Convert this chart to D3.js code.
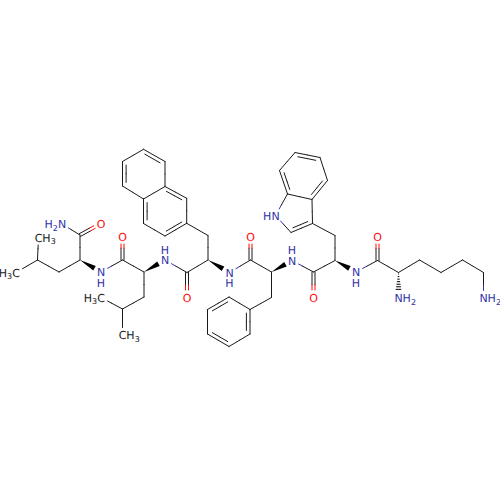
<!DOCTYPE html>
<html>
<head>
<meta charset="utf-8">
<script src="https://cdn.jsdelivr.net/npm/d3@7"></script>
<style>
  html, body { margin: 0; padding: 0; background: #fff; }
  svg { display: block; }
  text { font-family: "DejaVu Sans", sans-serif; font-size: 11px; text-rendering: geometricPrecision; }
</style>
</head>
<body>
<div id="mol"></div>
<script>
// atom positions
var atomIds = [
  "nh2a","camide","oa","ca1","cb1","cg1","cd1a","cd1b","n1",
  "c2","o2","ca2","cb2","cg2","cd2a","cd2b","n2",
  "c3","o3","ca3","cb3","n3",
  "np1","np2","np3","np4","np5","np6","np7","np8","np9","np10",
  "c4","o4","ca4","cb4","n4",
  "ph1","ph2","ph3","ph4","ph5","ph6",
  "c5","o5","ca5","cb5","n5",
  "in3","in2","in1","in7a","in3a","in7","in6","in5","in4",
  "c6","o6","ca6","nh2b","cb6","cg6","cd6","ce6","nh2c"
];
var atomX = [
  62,80,101,80,59,37.5,38.5,16,101,
  122.5,122.5,144,144,122.5,101,122.5,165,
  187,187,208,208,229.5,
  186.7,186.7,165,143.5,143.5,165,165,143.5,122.5,122.5,
  250.5,250.5,271.5,271.5,292,
  250,250,229,207.5,207.5,229,
  313.5,313.5,335,335,356,
  312.5,291,275.5,287.5,312,279.5,295,320,327.5,
  377.5,377.5,398.5,398.5,419.5,441,462.5,483.5,483.5
];
var atomY = [
  224,235,223.5,260,272,260,237.5,272.5,272,
  260,236.5,272,297,309,297.5,335,260,
  272.5,297.5,260,235.5,272.5,
  223.3,198.3,186.5,199,223.5,236,161.5,149.3,161.5,186,
  260,236.5,272,297.5,260.5,
  309.5,334,346.5,334,309.5,297,
  272,297.5,260.5,235.5,272,
  223.5,232.5,215.5,194,199.5,170.5,152.5,157.5,180.5,
  260.5,236.5,272.5,298,260,272.5,260,272.5,298
];

// bonds, as pairs of atom ids
var singleBonds = [
  ["nh2a","camide"],["camide","ca1"],["ca1","cb1"],["cb1","cg1"],["cg1","cd1a"],["cg1","cd1b"],
  ["n1","c2"],["c2","ca2"],["ca2","cb2"],["cb2","cg2"],["cg2","cd2a"],["cg2","cd2b"],
  ["n2","c3"],["c3","ca3"],["ca3","cb3"],["cb3","np1"],
  ["np2","np1"],["np3","np4"],["np4","np5"],["np6","np5"],["np3","np7"],["np8","np9"],["np10","np4"],
  ["n3","c4"],["c4","ca4"],["ca4","cb4"],["cb4","ph1"],
  ["ph2","ph3"],["ph4","ph5"],["ph6","ph1"],
  ["n4","c5"],["c5","ca5"],["ca5","cb5"],["cb5","in3"],
  ["in3","in3a"],["in2","in1"],["in1","in7a"],["in7a","in3a"],["in7","in6"],["in5","in4"],
  ["n5","c6"],["c6","ca6"],["ca6","cb6"],["cb6","cg6"],["cg6","cd6"],["cd6","ce6"],["ce6","nh2c"]
];
var carbonylBonds = [["camide","oa"],["c2","o2"],["c3","o3"],["c4","o4"],["c5","o5"],["c6","o6"]];
var ringDoubleBonds = [
  ["np1","np6"],["np2","np3"],["np4","np5"],["np7","np8"],["np9","np10"],
  ["ph1","ph2"],["ph3","ph4"],["ph5","ph6"],
  ["in3","in2"],["in7a","in7"],["in6","in5"],["in4","in3a"]
];
var rings = [
  ["np1","np2","np3","np4","np5","np6"],
  ["np3","np7","np8","np9","np10","np4"],
  ["ph1","ph2","ph3","ph4","ph5","ph6"],
  ["in3","in2","in1","in7a","in3a"],
  ["in7a","in7","in6","in5","in4","in3a"]
];
var wedgeBonds = [["ca1","n1"],["ca2","n2"],["ca3","n3"],["ca4","n4"],["ca5","n5"]];
var hashBonds = [["ca6","nh2b"]];

// labels: atom, element letter, text before it, subscript-aware text after it
var labelAtoms = [
  ["nh2a","N","H2",""],["oa","O","",""],["cd1a","C","","H3"],["cd1b","C","H3",""],
  ["n1","N","",""],["o2","O","",""],["cd2a","C","H3",""],["cd2b","C","","H3"],
  ["n2","N","",""],["o3","O","",""],["n3","N","",""],["o4","O","",""],
  ["n4","N","",""],["o5","O","",""],["n5","N","",""],["in1","N","H",""],
  ["o6","O","",""],["nh2b","N","","H2"],["nh2c","N","","H2"]
];
var hBelow = ["n1","n3","n5"];
var hAbove = ["n2","n4"];

var elementColor = { N: "#3232a8", O: "#ff0d0d", C: "#1a1a1a" };
var bondColor = "#1a1a1a";

var width = 500, height = 500;
var x = d3.scaleLinear().domain([0, 500]).range([0, width]);
var y = d3.scaleLinear().domain([0, 500]).range([0, height]);

var atoms = {};
atomIds.forEach(function (id, i) {
  atoms[id] = { id: id, x: x(atomX[i]), y: y(atomY[i]), el: null };
});
labelAtoms.forEach(function (l) { atoms[l[0]].el = l[1]; });

var svg = d3.select("#mol").append("svg").attr("width", width).attr("height", height);
var bondLayer = svg.append("g").attr("stroke-width", 1).attr("stroke-linecap", "round").attr("fill", "none");
var labelLayer = svg.append("g");

var TRIM = 7.5;

function trimmedEnds(a, b) {
  var dx = b.x - a.x, dy = b.y - a.y, len = Math.sqrt(dx * dx + dy * dy);
  var ta = a.el ? TRIM / len : 0, tb = b.el ? TRIM / len : 0;
  return { t0: ta, t1: 1 - tb, dx: dx, dy: dy, len: len };
}

// draws a bond in two colours, split half way between the atoms
function halfBond(a, b, ox, oy, shrink) {
  var e = trimmedEnds(a, b);
  var t0 = Math.max(e.t0, shrink / e.len), t1 = Math.min(e.t1, 1 - shrink / e.len);
  var ca = a.el ? elementColor[a.el] : bondColor;
  var cb = b.el ? elementColor[b.el] : bondColor;
  var px = function (t) { return a.x + e.dx * t + ox; };
  var py = function (t) { return a.y + e.dy * t + oy; };
  bondLayer.append("line").attr("stroke", ca)
    .attr("x1", px(t0)).attr("y1", py(t0)).attr("x2", px(0.5)).attr("y2", py(0.5));
  bondLayer.append("line").attr("stroke", cb)
    .attr("x1", px(0.5)).attr("y1", py(0.5)).attr("x2", px(t1)).attr("y2", py(t1));
}

singleBonds.concat(ringDoubleBonds).forEach(function (b) {
  halfBond(atoms[b[0]], atoms[b[1]], 0, 0, 0);
});

carbonylBonds.forEach(function (b) {
  var a = atoms[b[0]], c = atoms[b[1]];
  var e = trimmedEnds(a, c);
  var nx = -e.dy / e.len, ny = e.dx / e.len;
  halfBond(a, c, nx * 1.5, ny * 1.5, 0);
  halfBond(a, c, -nx * 1.5, -ny * 1.5, 0);
});

ringDoubleBonds.forEach(function (b) {
  var a = atoms[b[0]], c = atoms[b[1]];
  var ring = rings.filter(function (r) { return r.indexOf(b[0]) >= 0 && r.indexOf(b[1]) >= 0; })[0];
  var cx = d3.mean(ring, function (id) { return atoms[id].x; });
  var cy = d3.mean(ring, function (id) { return atoms[id].y; });
  var e = trimmedEnds(a, c);
  var nx = -e.dy / e.len, ny = e.dx / e.len;
  var mx = (a.x + c.x) / 2, my = (a.y + c.y) / 2;
  var side = (cx - mx) * nx + (cy - my) * ny > 0 ? 1 : -1;
  halfBond(a, c, nx * side * 3.6, ny * side * 3.6, 3.6);
});

wedgeBonds.forEach(function (b) {
  var a = atoms[b[0]], c = atoms[b[1]];
  var e = trimmedEnds(a, c);
  var nx = -e.dy / e.len, ny = e.dx / e.len;
  var ex = a.x + e.dx * e.t1, ey = a.y + e.dy * e.t1;
  svg.append("path").attr("fill", "#000")
    .attr("d", d3.line()([[a.x, a.y], [ex + nx * 2.6, ey + ny * 2.6], [ex - nx * 2.6, ey - ny * 2.6]]) + "Z");
});

hashBonds.forEach(function (b) {
  var a = atoms[b[0]], c = atoms[b[1]];
  var e = trimmedEnds(a, c);
  var nx = -e.dy / e.len, ny = e.dx / e.len;
  d3.range(0.06, e.t1, 0.1).forEach(function (t) {
    var w = 2.8 * t / e.t1 + 0.2;
    var hx = a.x + e.dx * t, hy = a.y + e.dy * t;
    svg.append("line").attr("stroke", "#000").attr("stroke-width", 1)
      .attr("x1", hx + nx * w).attr("y1", hy + ny * w)
      .attr("x2", hx - nx * w).attr("y2", hy - ny * w);
  });
});

// text pieces: digits go down as subscripts
function addPieces(sel, str) {
  str.split("").forEach(function (ch) {
    if (/[0-9]/.test(ch)) {
      sel.append("tspan").attr("font-size", "8px").attr("dy", 2.5).text(ch);
    } else {
      sel.append("tspan").text(ch);
    }
  });
}

labelAtoms.forEach(function (l) {
  var a = atoms[l[0]], color = elementColor[l[1]];
  var main = labelLayer.append("text").attr("x", a.x).attr("y", a.y + 4)
    .attr("text-anchor", "middle").attr("fill", color).text(l[1]);
  var w = main.node().getComputedTextLength();
  if (l[2]) {
    addPieces(labelLayer.append("text").attr("x", a.x - w / 2).attr("y", a.y + 4)
      .attr("text-anchor", "end").attr("fill", color), l[2]);
  }
  if (l[3]) {
    addPieces(labelLayer.append("text").attr("x", a.x + w / 2).attr("y", a.y + 4)
      .attr("text-anchor", "start").attr("fill", color), l[3]);
  }
});

hBelow.concat(hAbove).forEach(function (id) {
  var a = atoms[id], dir = hBelow.indexOf(id) >= 0 ? 1 : -1;
  labelLayer.append("text").attr("x", a.x).attr("y", a.y + 4 + dir * 10.5)
    .attr("text-anchor", "middle").attr("fill", elementColor.N).text("H");
});
</script>
</body>
</html>
